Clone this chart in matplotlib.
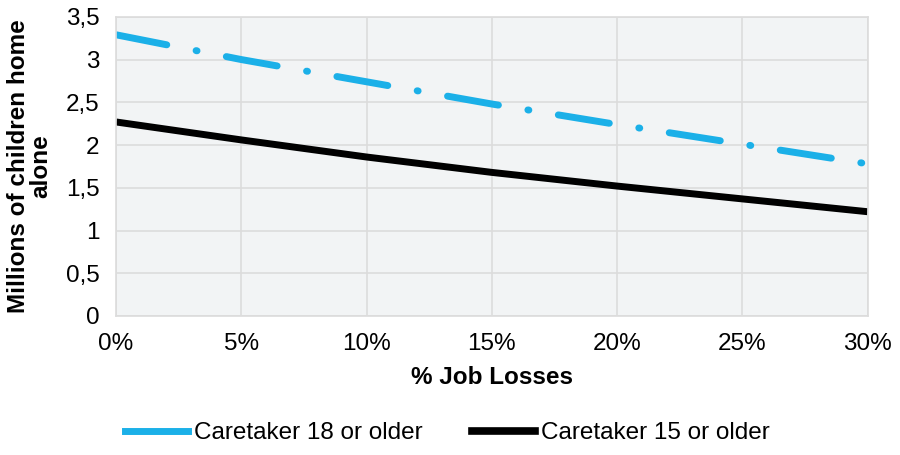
import numpy as np
import matplotlib.pyplot as plt
from matplotlib.lines import Line2D

plt.rcParams['font.family'] = ['Liberation Sans', 'DejaVu Sans']
plt.rcParams['lines.scale_dashes'] = False

# data
job_losses = [0, 5, 10, 15, 20, 25, 30]
care_18 = [3.29, 3.00, 2.74, 2.48, 2.24, 2.01, 1.78]
care_15 = [2.27, 2.06, 1.86, 1.68, 1.52, 1.37, 1.22]
y_ticks = [0, 0.5, 1, 1.5, 2, 2.5, 3, 3.5]
y_labels = ['0', '0,5', '1', '1,5', '2', '2,5', '3', '3,5']
x_ticks = [0, 5, 10, 15, 20, 25, 30]
x_labels = ['0%', '5%', '10%', '15%', '20%', '25%', '30%']

blue = '#1bb0e8'
grid_c = '#dcdcdc'

fig = plt.figure(figsize=(9, 4.55), dpi=100)
ax = fig.add_axes([0.129, 0.3055, 0.835, 0.6575])
ax.set_facecolor('#f2f4f5')

ax.plot(job_losses, care_15, color='black', lw=5, solid_capstyle='butt')
ax.plot(job_losses, care_18, color=blue, lw=5,
        linestyle=(0, (37.2, 21.5, 0.7, 21.5)), dash_capstyle='round')

ax.set_xlim(0, 30)
ax.set_ylim(0, 3.5)
ax.set_xticks(x_ticks, x_labels)
ax.set_yticks(y_ticks, y_labels)
ax.tick_params(length=0, labelsize=17.5, colors='black')
ax.tick_params(axis='x', pad=12)
ax.tick_params(axis='y', pad=12)
ax.grid(True, color=grid_c, lw=1.2)
ax.set_axisbelow(True)
for s in ax.spines.values():
    s.set_color(grid_c)
    s.set_linewidth(1.2)

ax.set_xlabel('% Job Losses', fontsize=17.5, fontweight='bold', labelpad=8)
ax.set_ylabel('Millions of children home\nalone', fontsize=17.5, fontweight='bold',
              linespacing=0.95, labelpad=10)

handles = [Line2D([], [], color=blue, lw=5),
           Line2D([], [], color='black', lw=5.5)]
fig.legend(handles, ['Caretaker 18 or older', 'Caretaker 15 or older'],
           loc='center', bbox_to_anchor=(0.497, 0.048), ncol=2, frameon=False,
           fontsize=17.5, handlelength=2.6, handletextpad=0.25, columnspacing=2.0)

fig.savefig('out.png', dpi=100)
